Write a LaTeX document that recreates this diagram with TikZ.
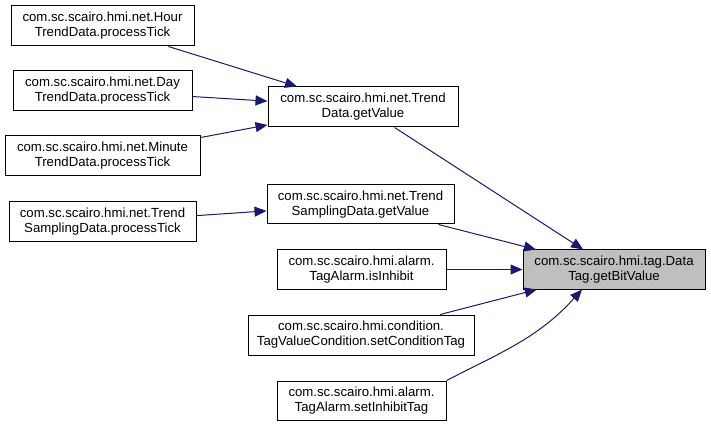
\documentclass[tikz,border=0pt]{standalone}
\usepackage{fontspec}
\setmainfont{Liberation Sans}
\usepackage{xcolor}
\usepackage{tikz}
\usetikzlibrary{arrows.meta}
\definecolor{edgedraw}{HTML}{191970}
\definecolor{curfill}{HTML}{BFBFBF}
\tikzset{
  fn/.style={rectangle, draw=black, line width=1pt, fill=white, align=center, font=\fontsize{13.2}{15}\selectfont, inner sep=0pt, minimum height=40pt},
  cur/.style={fn, fill=curfill},
  arr/.style={-{Triangle[length=12pt, width=10pt]}, line width=1pt, draw=edgedraw},
}
\begin{document}
\begin{tikzpicture}[x=1pt, y=1pt]
  \useasboundingbox (0,0) rectangle (711,-427);
  \node[fn, minimum width=183pt] (hour) at (102.5,-26) {com.sc.scairo.hmi.net.Hour\\TrendData.processTick};
  \node[fn, minimum width=179pt] (day) at (102.5,-91) {com.sc.scairo.hmi.net.Day\\TrendData.processTick};
  \node[fn, minimum width=195pt] (minute) at (102.5,-156) {com.sc.scairo.hmi.net.Minute\\TrendData.processTick};
  \node[fn, minimum width=187pt] (tsdtick) at (102.5,-222) {com.sc.scairo.hmi.net.Trend\\SamplingData.processTick};
  \node[fn, minimum width=190pt] (trendget) at (363,-107) {com.sc.scairo.hmi.net.Trend\\Data.getValue};
  \node[fn, minimum width=187pt, minimum height=39pt] (tsdget) at (360.5,-204.5) {com.sc.scairo.hmi.net.Trend\\SamplingData.getValue};
  \node[fn, minimum width=169pt, minimum height=39pt] (isinhibit) at (361.5,-269.5) {com.sc.scairo.hmi.alarm.\\TagAlarm.isInhibit};
  \node[fn, minimum width=226pt] (setcond) at (361,-335) {com.sc.scairo.hmi.condition.\\TagValueCondition.setConditionTag};
  \node[fn, minimum width=169pt, minimum height=39pt] (setinhibit) at (361.5,-400.5) {com.sc.scairo.hmi.alarm.\\TagAlarm.setInhibitTag};
  \node[cur, minimum width=182pt, minimum height=39pt] (bitvalue) at (614,-269.5) {com.sc.scairo.hmi.tag.Data\\Tag.getBitValue};
  \draw[arr] (hour) -- (trendget);
  \draw[arr] (day) -- (trendget);
  \draw[arr] (minute) -- (trendget);
  \draw[arr] (tsdtick) -- (tsdget);
  \draw[arr] (trendget) -- (bitvalue);
  \draw[arr] (tsdget) -- (bitvalue);
  \draw[arr] (isinhibit) -- (bitvalue);
  \draw[arr] (setcond) -- (bitvalue);
  \draw[arr] (setinhibit.north east) to[out=27, in=-132] (bitvalue.-148);
\end{tikzpicture}
\end{document}
